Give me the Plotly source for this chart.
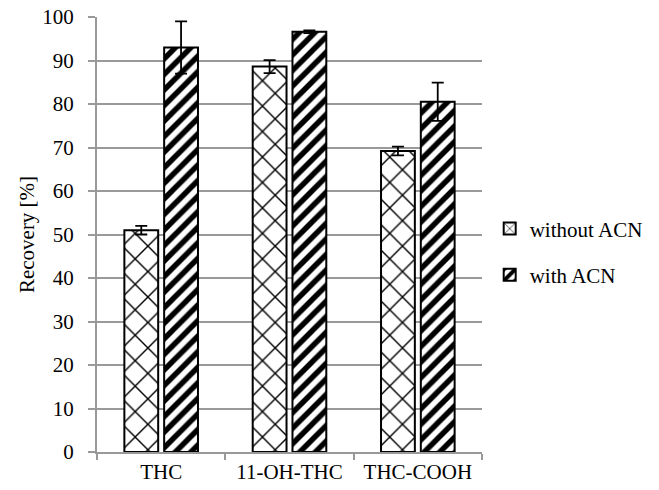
import plotly.graph_objects as go

categories = ["THC", "11-OH-THC", "THC-COOH"]
without_acn = [51.0, 88.6, 69.2]
without_err = [1.0, 1.5, 1.0]
with_acn = [93.0, 96.6, 80.5]
with_err = [6.0, 0.3, 4.4]

FONT = "Liberation Serif, Times New Roman, serif"

fig = go.Figure()
fig.add_trace(go.Bar(
    x=categories, y=without_acn, name="without ACN", legendgroup="a",
    marker=dict(color="white", line=dict(color="black", width=2),
                pattern=dict(shape="x", fgcolor="black", bgcolor="white", size=18,
                             solidity=0.15, fgopacity=1)),
    error_y=dict(type="data", array=without_err, visible=True, color="black", thickness=1.8, width=6),
))
fig.add_trace(go.Bar(
    x=categories, y=with_acn, name="with ACN", legendgroup="b",
    marker=dict(color="white", line=dict(color="black", width=2),
                pattern=dict(shape="/", fgcolor="black", bgcolor="white", size=11,
                             solidity=0.5, fgopacity=1)),
    error_y=dict(type="data", array=with_err, visible=True, color="black", thickness=1.8, width=6),
))

fig.update_layout(
    width=659, height=490,
    margin=dict(l=97, r=177, t=17, b=38, autoexpand=False),
    plot_bgcolor="white", paper_bgcolor="white",
    font=dict(family=FONT, size=21, color="black"),
    barmode="group", bargap=0.38, bargroupgap=0.15,
    legend=dict(x=1.02, y=0.46, xanchor="left", yanchor="middle",
                font=dict(family=FONT, size=21), tracegroupgap=16,
                itemwidth=30),
    xaxis=dict(showline=True, linecolor="#999999", linewidth=2, ticks="outside",
               tickson="boundaries", ticklen=6, tickcolor="#999999", tickwidth=2,
               automargin=False, tickfont=dict(family=FONT, size=21)),
    yaxis=dict(range=[0, 100], dtick=10, showgrid=True, gridcolor="#999999", gridwidth=2,
               showline=True, linecolor="#999999", linewidth=2, ticks="outside",
               ticklen=7, tickcolor="#999999", tickwidth=2, zeroline=False,
               automargin=False, ticklabelstandoff=10,
               title=dict(text="Recovery [%]", font=dict(family=FONT, size=21), standoff=2),
               tickfont=dict(family=FONT, size=21)),
)

fig.write_html("out.html", config={"displayModeBar": False},
               post_script="document.body.style.margin='0';")
